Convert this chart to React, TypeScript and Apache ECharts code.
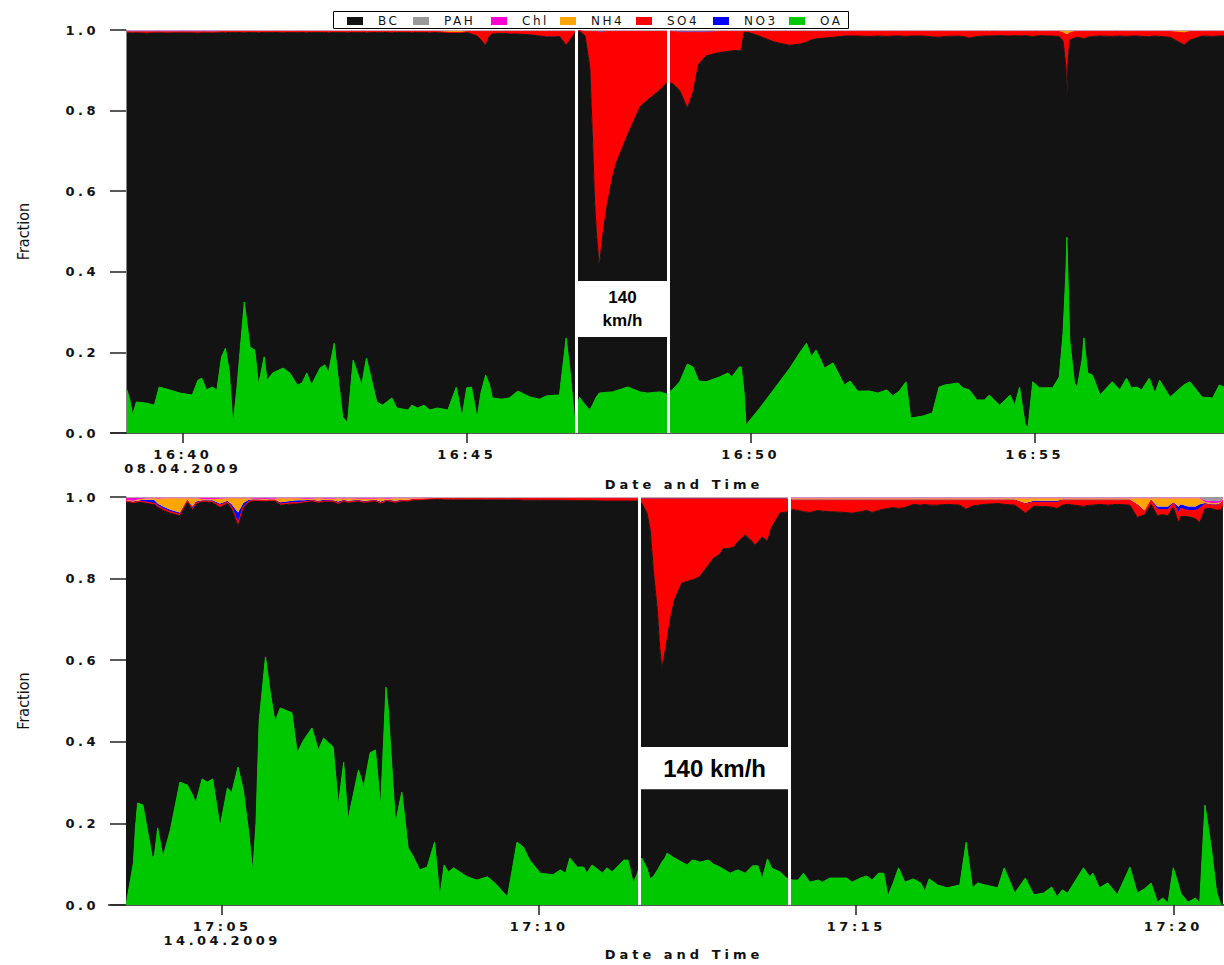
import React, { useEffect, useRef } from "react";
import * as echarts from "echarts";

// ---------------- Panel 1: 08.04.2009, seconds after 16:40:00 ----------------
const topT = [
  -59, -56, -53, -49, -38, -30, -25, -17, -3, 10,
  16, 20, 25, 31, 36, 41, 45, 49, 53, 57,
  65, 71, 76, 80, 86, 89, 95, 106, 113, 121,
  126, 131, 136, 145, 150, 154, 160, 164, 169, 174,
  180, 189, 194, 205, 211, 221, 226, 238, 242, 248,
  255, 261, 269, 280, 289, 295, 300, 305, 311, 315,
  320, 324, 327, 337, 345, 354, 367, 377, 384, 394,
  398, 401, 405, 409, 414, 419, 425, 430, 433, 435,
  437, 440, 444, 448, 454, 458, 470, 483, 491, 504,
  511, 517, 525, 533, 539, 545, 553, 567, 576, 580,
  588, 590, 593, 595, 609, 625, 641, 652, 659, 664,
  669, 678, 687, 699, 705, 713, 726, 734, 744, 750,
  757, 764, 769, 782, 792, 799, 805, 819, 824, 831,
  839, 847, 852, 863, 874, 879, 884, 890, 893, 898,
  905, 919, 926, 930, 933, 934, 935, 937, 942, 945,
  950, 952, 956, 961, 969, 982, 990, 997, 1002, 1008,
  1013, 1021, 1027, 1032, 1043, 1058, 1064, 1077, 1088, 1095,
  1100,
];
const topOA = [
  0.107, 0.082, 0.045, 0.077, 0.074, 0.069, 0.114, 0.109, 0.099, 0.094,
  0.131, 0.136, 0.107, 0.114, 0.107, 0.189, 0.21, 0.156, 0.02, 0.107,
  0.325, 0.213, 0.206, 0.119, 0.189, 0.131, 0.149, 0.161, 0.149, 0.119,
  0.124, 0.149, 0.119, 0.161, 0.169, 0.151, 0.223, 0.139, 0.04, 0.025,
  0.181, 0.119, 0.186, 0.077, 0.069, 0.087, 0.062, 0.057, 0.069, 0.062,
  0.069, 0.057, 0.062, 0.057, 0.114, 0.04, 0.112, 0.114, 0.037, 0.1,
  0.144, 0.12, 0.087, 0.084, 0.087, 0.104, 0.089, 0.084, 0.092, 0.094,
  0.094, 0.156, 0.236, 0.156, 0.032, 0.089, 0.07, 0.057, 0.07, 0.08,
  0.09, 0.099, 0.1, 0.101, 0.102, 0.105, 0.114, 0.102, 0.099, 0.102,
  0.097, 0.107, 0.127, 0.171, 0.164, 0.129, 0.127, 0.139, 0.149, 0.139,
  0.164, 0.164, 0.1, 0.02, 0.06, 0.11, 0.16, 0.2, 0.223, 0.189,
  0.206, 0.161, 0.174, 0.119, 0.129, 0.104, 0.104, 0.099, 0.107, 0.092,
  0.104, 0.127, 0.037, 0.042, 0.05, 0.114, 0.119, 0.124, 0.112, 0.107,
  0.082, 0.082, 0.094, 0.069, 0.094, 0.069, 0.114, 0.02, 0.015, 0.127,
  0.112, 0.112, 0.139, 0.248, 0.4, 0.486, 0.4, 0.231, 0.124, 0.114,
  0.181, 0.236, 0.149, 0.144, 0.094, 0.127, 0.107, 0.136, 0.112, 0.114,
  0.107, 0.136, 0.099, 0.131, 0.089, 0.12, 0.127, 0.089, 0.087, 0.119,
  0.114,
];
const topSO4 = [
  0.001, 0.001, 0.002, 0.001, 0.003, 0.001, 0.001, 0.002, 0.001, 0.001,
  0.003, 0.001, 0.001, 0.002, 0.001, 0.002, 0.003, 0.002, 0.002, 0.002,
  0.003, 0.002, 0.002, 0.003, 0.002, 0.002, 0.002, 0.003, 0.002, 0.002,
  0.002, 0.003, 0.002, 0.002, 0.002, 0.003, 0.002, 0.002, 0.002, 0.003,
  0.002, 0.002, 0.003, 0.002, 0.002, 0.003, 0.002, 0.002, 0.003, 0.002,
  0.002, 0.003, 0.002, 0, 0.001, 0, 0.002, 0.006, 0.011, 0.021,
  0.034, 0.011, 0.006, 0.004, 0.006, 0.006, 0.008, 0.011, 0.013, 0.013,
  0.012, 0.021, 0.034, 0.021, 0.004, 0, 0.011, 0.088, 0.276, 0.418,
  0.5, 0.582, 0.498, 0.435, 0.361, 0.326, 0.256, 0.187, 0.17, 0.145,
  0.128, 0.128, 0.144, 0.188, 0.15, 0.079, 0.058, 0.052, 0.049, 0.048,
  0.046, 0.046, 0, 0, 0.011, 0.026, 0.034, 0.031, 0.026, 0.021,
  0.018, 0.016, 0.014, 0.011, 0.011, 0.011, 0.012, 0.011, 0.012, 0.011,
  0.011, 0.012, 0.011, 0.011, 0.013, 0.014, 0.012, 0.011, 0.012, 0.016,
  0.012, 0.011, 0.011, 0.01, 0.011, 0.01, 0.011, 0.01, 0.011, 0.012,
  0.01, 0.011, 0.012, 0.02, 0.081, 0.16, 0.081, 0.018, 0.016, 0.014,
  0.016, 0.018, 0.014, 0.012, 0.011, 0.012, 0.011, 0.012, 0.011, 0.011,
  0.012, 0.013, 0.011, 0.012, 0.014, 0.03, 0.021, 0.011, 0.012, 0.011,
  0.011,
];
const topNO3 = [
  0.001, 0.001, 0.001, 0.001, 0.001, 0.001, 0.001, 0.001, 0.001, 0.001,
  0.001, 0.001, 0.001, 0.001, 0.001, 0.001, 0.001, 0.001, 0.001, 0.001,
  0.001, 0.001, 0.001, 0.001, 0.001, 0.001, 0.001, 0.001, 0.001, 0.001,
  0.001, 0.001, 0.001, 0.001, 0.001, 0.001, 0.001, 0.001, 0.001, 0.001,
  0.001, 0.001, 0.001, 0.001, 0.001, 0.001, 0.001, 0.001, 0.001, 0.001,
  0.001, 0.001, 0.001, 0.001, 0.001, 0.001, 0.001, 0.001, 0.001, 0.001,
  0.001, 0.001, 0.001, 0.001, 0.001, 0.001, 0.001, 0.001, 0.001, 0.001,
  0.001, 0.001, 0.001, 0.001, 0.001, 0.001, 0.001, 0.001, 0.001, 0.001,
  0.001, 0.003, 0.003, 0.001, 0.001, 0.001, 0.001, 0.001, 0.001, 0.001,
  0.001, 0.001, 0.003, 0.003, 0.003, 0.003, 0.003, 0.001, 0.001, 0.001,
  0.001, 0.001, 0.001, 0.001, 0.001, 0.001, 0.001, 0.001, 0.001, 0.001,
  0.001, 0.001, 0.001, 0.001, 0.001, 0.001, 0.001, 0.001, 0.001, 0.001,
  0.001, 0.001, 0.001, 0.001, 0.001, 0.001, 0.001, 0.001, 0.001, 0.001,
  0.001, 0.001, 0.001, 0.001, 0.001, 0.001, 0.001, 0.001, 0.001, 0.001,
  0.001, 0.001, 0.001, 0.001, 0.001, 0.001, 0.001, 0.001, 0.001, 0.001,
  0.001, 0.001, 0.001, 0.001, 0.001, 0.001, 0.001, 0.001, 0.001, 0.001,
  0.001, 0.001, 0.001, 0.001, 0.001, 0.001, 0.001, 0.001, 0.001, 0.001,
  0.001,
];
const topNH4 = [
  0.001, 0.001, 0.001, 0.001, 0.001, 0.001, 0.001, 0.001, 0.001, 0.001,
  0.001, 0.001, 0.001, 0.001, 0.001, 0.001, 0.001, 0.001, 0.001, 0.001,
  0.001, 0.001, 0.001, 0.001, 0.001, 0.001, 0.001, 0.001, 0.001, 0.001,
  0.001, 0.001, 0.001, 0.001, 0.001, 0.001, 0.001, 0.001, 0.001, 0.001,
  0.001, 0.001, 0.001, 0.001, 0.001, 0.001, 0.001, 0.001, 0.001, 0.001,
  0.001, 0.001, 0.001, 0.003, 0.003, 0.003, 0.001, 0.001, 0.001, 0.001,
  0.001, 0.001, 0.001, 0.001, 0.001, 0.001, 0.001, 0.001, 0.001, 0.001,
  0.001, 0.001, 0.001, 0.001, 0.001, 0, 0.001, 0.001, 0.001, 0.001,
  0.001, 0.001, 0.001, 0.001, 0.001, 0.001, 0.001, 0.001, 0.001, 0.001,
  0.001, 0.001, 0.001, 0.001, 0.001, 0.001, 0.001, 0.001, 0.001, 0.001,
  0.001, 0.001, 0.001, 0.001, 0.001, 0.001, 0.001, 0.001, 0.001, 0.001,
  0.001, 0.001, 0.001, 0.001, 0.001, 0.001, 0.001, 0.001, 0.001, 0.001,
  0.001, 0.001, 0.001, 0.001, 0.001, 0.001, 0.001, 0.001, 0.001, 0.001,
  0.001, 0.001, 0.001, 0.001, 0.001, 0.001, 0.001, 0.001, 0.001, 0.001,
  0.001, 0.001, 0.001, 0.004, 0.008, 0.008, 0.008, 0.004, 0.001, 0.001,
  0.001, 0.001, 0.001, 0.001, 0.001, 0.001, 0.001, 0.001, 0.001, 0.001,
  0.001, 0.001, 0.001, 0.001, 0.001, 0.004, 0.001, 0.001, 0.001, 0.001,
  0.001,
];
const topChl = [
  0.002, 0.002, 0.002, 0.002, 0.002, 0.002, 0.002, 0.002, 0.002, 0.002,
  0.002, 0.002, 0.002, 0.002, 0.002, 0.001, 0.001, 0.001, 0.001, 0.001,
  0.001, 0.001, 0.001, 0.001, 0.001, 0.001, 0.001, 0.001, 0.001, 0.001,
  0.001, 0.001, 0.001, 0.001, 0.001, 0.001, 0.001, 0.001, 0.001, 0.001,
  0.001, 0.001, 0.001, 0.001, 0.001, 0.001, 0.001, 0.001, 0.001, 0.001,
  0.001, 0.001, 0.001, 0.001, 0.001, 0.001, 0.001, 0.001, 0.001, 0.001,
  0.001, 0.001, 0.001, 0.001, 0.001, 0.001, 0.001, 0.001, 0.001, 0.001,
  0.001, 0.001, 0.001, 0.001, 0.001, 0.001, 0.001, 0.001, 0.001, 0.001,
  0.001, 0.001, 0.001, 0.001, 0.001, 0.001, 0.001, 0.001, 0.001, 0.001,
  0.001, 0.001, 0.001, 0.001, 0.001, 0.001, 0.001, 0.001, 0.001, 0.001,
  0.001, 0.001, 0.001, 0.001, 0.001, 0.001, 0.001, 0.001, 0.001, 0.001,
  0.001, 0.001, 0.001, 0.001, 0.001, 0.001, 0.001, 0.001, 0.001, 0.001,
  0.001, 0.001, 0.001, 0.001, 0.001, 0.001, 0.001, 0.001, 0.001, 0.001,
  0.001, 0.001, 0.001, 0.001, 0.001, 0.001, 0.001, 0.001, 0.001, 0.001,
  0.001, 0.001, 0.001, 0.001, 0.001, 0.001, 0.001, 0.001, 0.001, 0.001,
  0.001, 0.001, 0.001, 0.001, 0.001, 0.001, 0.001, 0.001, 0.001, 0.001,
  0.001, 0.001, 0.001, 0.001, 0.001, 0.001, 0.001, 0.001, 0.001, 0.001,
  0.001,
];
const topPAH = [
  0.001, 0.001, 0.001, 0.001, 0.001, 0.001, 0.001, 0.001, 0.001, 0.001,
  0.001, 0.001, 0.001, 0.001, 0.001, 0.001, 0.001, 0.001, 0.001, 0.001,
  0.001, 0.001, 0.001, 0.001, 0.001, 0.001, 0.001, 0.001, 0.001, 0.001,
  0.001, 0.001, 0.001, 0.001, 0.001, 0.001, 0.001, 0.001, 0.001, 0.001,
  0.001, 0.001, 0.001, 0.001, 0.001, 0.001, 0.001, 0.001, 0.001, 0.001,
  0.001, 0.001, 0.001, 0.001, 0.001, 0.001, 0.001, 0.001, 0.001, 0.001,
  0.001, 0.001, 0.001, 0.001, 0.001, 0.001, 0.001, 0.001, 0.001, 0.001,
  0.001, 0.001, 0.001, 0.001, 0.001, 0, 0.001, 0.001, 0.001, 0.001,
  0.001, 0.001, 0.001, 0.001, 0.001, 0.001, 0.001, 0.001, 0.001, 0.001,
  0.001, 0.001, 0.001, 0.001, 0.001, 0.001, 0.001, 0.001, 0.001, 0.001,
  0.001, 0.001, 0.001, 0.001, 0.001, 0.001, 0.001, 0.001, 0.001, 0.001,
  0.001, 0.001, 0.001, 0.001, 0.001, 0.001, 0.001, 0.001, 0.001, 0.001,
  0.001, 0.001, 0.001, 0.001, 0.001, 0.001, 0.001, 0.001, 0.001, 0.001,
  0.001, 0.001, 0.001, 0.001, 0.001, 0.001, 0.001, 0.001, 0.001, 0.001,
  0.001, 0.001, 0.001, 0.001, 0.001, 0.001, 0.001, 0.001, 0.001, 0.001,
  0.001, 0.001, 0.001, 0.001, 0.001, 0.001, 0.001, 0.001, 0.001, 0.001,
  0.001, 0.001, 0.001, 0.001, 0.001, 0.001, 0.001, 0.001, 0.001, 0.001,
  0.001,
];

// ---------------- Panel 2: 14.04.2009, seconds after 17:05:00 ----------------
const botT = [
  -91, -89, -84, -82, -80, -75, -66, -64, -61, -56,
  -49, -40, -33, -28, -25, -19, -14, -9, -2, 5,
  9, 15, 20, 25, 29, 32, 35, 41, 45, 50,
  55, 66, 71, 77, 85, 91, 96, 105, 110, 115,
  119, 129, 134, 140, 145, 150, 155, 157, 164, 170,
  176, 181, 187, 194, 201, 206, 210, 214, 219, 232,
  241, 251, 258, 270, 279, 285, 291, 301, 313, 320,
  325, 329, 336, 342, 345, 350, 360, 364, 369, 380,
  384, 389, 393, 397, 402, 405, 408, 412, 414, 416,
  419, 421, 424, 428, 435, 440, 445, 449, 452, 455,
  460, 465, 471, 474, 481, 484, 488, 495, 502, 504,
  507, 511, 516, 520, 528, 534, 540, 545, 550, 556,
  564, 568, 575, 591, 596, 604, 610, 615, 621, 626,
  630, 635, 640, 646, 654, 661, 665, 669, 677, 686,
  698, 704, 710, 715, 722, 734, 740, 750, 760, 768,
  777, 785, 790, 795, 800, 815, 821, 824, 830, 838,
  847, 859, 866, 873, 879, 885, 890, 895, 900, 905,
  907, 914, 921, 925, 930, 936, 941, 945, 947,
];
const botOA = [
  0, 0.029, 0.103, 0.191, 0.25, 0.245, 0.115, 0.123, 0.189, 0.118,
  0.184, 0.301, 0.294, 0.27, 0.25, 0.309, 0.301, 0.309, 0.191, 0.287,
  0.275, 0.338, 0.282, 0.18, 0.081, 0.2, 0.45, 0.608, 0.53, 0.449,
  0.483, 0.471, 0.373, 0.404, 0.434, 0.38, 0.409, 0.387, 0.245, 0.35,
  0.208, 0.331, 0.289, 0.373, 0.38, 0.24, 0.534, 0.485, 0.201, 0.277,
  0.14, 0.118, 0.086, 0.093, 0.154, 0.02, 0.098, 0.081, 0.091, 0.069,
  0.061, 0.069, 0.054, 0.02, 0.154, 0.142, 0.11, 0.078, 0.074, 0.086,
  0.078, 0.115, 0.093, 0.093, 0.078, 0.098, 0.078, 0.091, 0.081, 0.11,
  0.11, 0.054, 0.078, 0.115, 0.09, 0.064, 0.07, 0.086, 0.095, 0.105,
  0.115, 0.127, 0.122, 0.115, 0.105, 0.098, 0.11, 0.108, 0.105, 0.107,
  0.11, 0.1, 0.093, 0.088, 0.078, 0.082, 0.086, 0.078, 0.096, 0.096,
  0.096, 0.064, 0.113, 0.09, 0.081, 0.066, 0.061, 0.061, 0.078, 0.056,
  0.061, 0.056, 0.066, 0.066, 0.056, 0.066, 0.071, 0.061, 0.078, 0.078,
  0.022, 0.054, 0.091, 0.056, 0.064, 0.054, 0.034, 0.064, 0.049, 0.042,
  0.049, 0.154, 0.042, 0.054, 0.049, 0.042, 0.091, 0.029, 0.066, 0.025,
  0.029, 0.044, 0.02, 0.037, 0.029, 0.091, 0.069, 0.078, 0.042, 0.054,
  0.025, 0.093, 0.029, 0.04, 0.054, 0.007, 0.017, 0.005, 0.091, 0.05,
  0.029, 0.007, 0.017, 0.005, 0.245, 0.14, 0.032, 0, 0,
];
const botSO4 = [
  0.002, 0.002, 0.002, 0.003, 0.002, 0.003, 0.003, 0.003, 0.004, 0.004,
  0.004, 0.004, 0.003, 0.003, 0.003, 0.002, 0.002, 0.003, 0.006, 0.004,
  0.004, 0.008, 0.004, 0.003, 0.002, 0.002, 0.002, 0.002, 0.002, 0.002,
  0.003, 0.003, 0.003, 0.002, 0.002, 0.003, 0.002, 0.002, 0.003, 0.002,
  0.003, 0.002, 0.002, 0.002, 0.002, 0.003, 0.002, 0.002, 0.003, 0.002,
  0.003, 0.002, 0.002, 0.002, 0.002, 0.002, 0.003, 0.003, 0.003, 0.003,
  0.003, 0.003, 0.003, 0.003, 0.003, 0.004, 0.004, 0.004, 0.004, 0.004,
  0.004, 0.005, 0.005, 0.005, 0.005, 0.005, 0.006, 0.006, 0.006, 0.006,
  0.006, 0.006, 0.006, 0.01, 0.034, 0.075, 0.174, 0.279, 0.363, 0.414,
  0.377, 0.345, 0.296, 0.247, 0.206, 0.202, 0.198, 0.194, 0.19, 0.179,
  0.162, 0.145, 0.135, 0.122, 0.12, 0.118, 0.105, 0.088, 0.105, 0.113,
  0.105, 0.093, 0.103, 0.069, 0.034, 0.032, 0.023, 0.025, 0.028, 0.03,
  0.025, 0.027, 0.028, 0.03, 0.032, 0.028, 0.025, 0.03, 0.025, 0.022,
  0.02, 0.018, 0.02, 0.018, 0.01, 0.012, 0.01, 0.012, 0.012, 0.01,
  0.012, 0.022, 0.014, 0.012, 0.01, 0.008, 0.01, 0.012, 0.022, 0.01,
  0.01, 0.012, 0.015, 0.012, 0.01, 0.015, 0.012, 0.012, 0.01, 0.012,
  0.01, 0.012, 0.03, 0.008, 0.01, 0.015, 0.012, 0.015, 0.01, 0.025,
  0.02, 0.015, 0.02, 0.035, 0.012, 0.008, 0.012, 0.015, 0.015,
];
const botNO3 = [
  0.001, 0.001, 0.002, 0.002, 0.002, 0.004, 0.008, 0.007, 0.005, 0.006,
  0.005, 0.004, 0.002, 0.006, 0.004, 0.002, 0.002, 0.003, 0.004, 0.003,
  0.006, 0.025, 0.008, 0.004, 0.002, 0.002, 0.002, 0.002, 0.002, 0.002,
  0.004, 0.005, 0.006, 0.004, 0.002, 0.003, 0.003, 0.002, 0.004, 0.002,
  0.003, 0.002, 0.003, 0.002, 0.002, 0.003, 0.002, 0.002, 0.003, 0.002,
  0.002, 0.001, 0.001, 0.001, 0.001, 0.001, 0.001, 0.001, 0.001, 0.001,
  0.001, 0.001, 0.001, 0.001, 0.001, 0.001, 0.001, 0.001, 0.001, 0.001,
  0.001, 0.001, 0.001, 0.001, 0.001, 0.001, 0.001, 0.001, 0.001, 0.001,
  0.001, 0.001, 0.001, 0.002, 0.002, 0.002, 0.002, 0.002, 0.002, 0.002,
  0.002, 0.002, 0.002, 0.002, 0.002, 0.002, 0.002, 0.002, 0.002, 0.002,
  0.002, 0.002, 0.002, 0.002, 0.002, 0.002, 0.002, 0.002, 0.002, 0.002,
  0.002, 0.002, 0.002, 0.002, 0.002, 0.002, 0.002, 0.002, 0.002, 0.002,
  0.002, 0.002, 0.002, 0.002, 0.002, 0.002, 0.002, 0.002, 0.002, 0.002,
  0.002, 0.002, 0.002, 0.002, 0.002, 0.002, 0.002, 0.002, 0.002, 0.002,
  0.002, 0.002, 0.002, 0.002, 0.002, 0.002, 0.002, 0.002, 0.002, 0.004,
  0.004, 0.004, 0.004, 0.002, 0.002, 0.002, 0.002, 0.002, 0.002, 0.002,
  0.002, 0.002, 0.002, 0.002, 0.002, 0.008, 0.008, 0.008, 0.002, 0.015,
  0.01, 0.01, 0.01, 0.01, 0.002, 0.002, 0.002, 0.002, 0.002,
];
const botNH4 = [
  0.001, 0.002, 0.002, 0.002, 0.003, 0.003, 0.004, 0.005, 0.012, 0.02,
  0.028, 0.035, 0.004, 0.02, 0.008, 0.003, 0.002, 0.003, 0.012, 0.006,
  0.015, 0.035, 0.012, 0.004, 0.002, 0.002, 0.002, 0.002, 0.002, 0.002,
  0.01, 0.006, 0.005, 0.004, 0.003, 0.006, 0.003, 0.004, 0.008, 0.003,
  0.006, 0.003, 0.006, 0.004, 0.003, 0.008, 0.003, 0.003, 0.006, 0.004,
  0.004, 0.002, 0.002, 0.001, 0.001, 0.001, 0.001, 0.001, 0.001, 0.001,
  0.001, 0.001, 0.001, 0.001, 0.001, 0.001, 0.001, 0.001, 0.001, 0.001,
  0.001, 0.001, 0.001, 0.001, 0.001, 0.001, 0.001, 0.001, 0.001, 0.001,
  0.001, 0.001, 0.001, 0.001, 0.001, 0.001, 0.001, 0.001, 0.001, 0.001,
  0.001, 0.001, 0.001, 0.001, 0.001, 0.001, 0.001, 0.001, 0.001, 0.001,
  0.001, 0.001, 0.001, 0.001, 0.001, 0.001, 0.001, 0.001, 0.001, 0.001,
  0.001, 0.001, 0.001, 0.001, 0.001, 0.001, 0.003, 0.003, 0.003, 0.003,
  0.003, 0.003, 0.003, 0.003, 0.003, 0.003, 0.003, 0.003, 0.003, 0.003,
  0.003, 0.003, 0.003, 0.003, 0.003, 0.003, 0.003, 0.003, 0.003, 0.003,
  0.003, 0.003, 0.003, 0.003, 0.003, 0.003, 0.003, 0.003, 0.012, 0.006,
  0.006, 0.006, 0.006, 0.003, 0.003, 0.003, 0.003, 0.003, 0.003, 0.003,
  0.003, 0.003, 0.015, 0.03, 0.003, 0.02, 0.02, 0.02, 0.01, 0.02,
  0.015, 0.02, 0.02, 0.015, 0.003, 0.003, 0.003, 0.003, 0.003,
];
const botChl = [
  0.006, 0.006, 0.007, 0.006, 0.004, 0.003, 0.002, 0.002, 0.003, 0.002,
  0.002, 0.002, 0.002, 0.002, 0.002, 0.004, 0.005, 0.004, 0.003, 0.002,
  0.002, 0.002, 0.002, 0.002, 0.003, 0.003, 0.003, 0.004, 0.003, 0.003,
  0.002, 0.002, 0.002, 0.003, 0.003, 0.002, 0.003, 0.003, 0.002, 0.003,
  0.002, 0.003, 0.003, 0.003, 0.003, 0.002, 0.003, 0.003, 0.002, 0.002,
  0.002, 0.002, 0.002, 0.002, 0.001, 0.001, 0.001, 0.001, 0.001, 0.001,
  0.001, 0.001, 0.001, 0.001, 0.001, 0.001, 0.001, 0.001, 0.001, 0.001,
  0.001, 0.001, 0.001, 0.001, 0.001, 0.001, 0.001, 0.001, 0.001, 0.001,
  0.001, 0.001, 0.001, 0.001, 0.001, 0.001, 0.001, 0.001, 0.001, 0.001,
  0.001, 0.001, 0.001, 0.001, 0.001, 0.001, 0.001, 0.001, 0.001, 0.001,
  0.001, 0.001, 0.001, 0.001, 0.001, 0.001, 0.001, 0.001, 0.001, 0.001,
  0.001, 0.001, 0.001, 0.001, 0.001, 0.001, 0.002, 0.002, 0.002, 0.002,
  0.002, 0.002, 0.002, 0.002, 0.002, 0.002, 0.002, 0.002, 0.002, 0.002,
  0.002, 0.002, 0.002, 0.002, 0.002, 0.002, 0.002, 0.002, 0.002, 0.002,
  0.002, 0.002, 0.002, 0.002, 0.002, 0.002, 0.002, 0.002, 0.002, 0.002,
  0.002, 0.002, 0.002, 0.002, 0.002, 0.002, 0.002, 0.002, 0.002, 0.002,
  0.002, 0.002, 0.002, 0.002, 0.002, 0.002, 0.002, 0.002, 0.002, 0.002,
  0.002, 0.002, 0.002, 0.002, 0.004, 0.005, 0.005, 0.004, 0.002,
];
const botPAH = [
  0.002, 0.002, 0.002, 0.002, 0.002, 0.001, 0.001, 0.001, 0.001, 0.001,
  0.001, 0.001, 0.001, 0.001, 0.001, 0.001, 0.001, 0.001, 0.001, 0.001,
  0.001, 0.001, 0.001, 0.001, 0.001, 0.001, 0.001, 0.001, 0.001, 0.001,
  0.001, 0.001, 0.001, 0.001, 0.001, 0.001, 0.001, 0.001, 0.001, 0.001,
  0.001, 0.001, 0.001, 0.001, 0.001, 0.001, 0.001, 0.001, 0.001, 0.001,
  0.001, 0.001, 0.001, 0.001, 0.001, 0.001, 0.001, 0.001, 0.001, 0.001,
  0.001, 0.001, 0.001, 0.001, 0.001, 0.001, 0.001, 0.001, 0.001, 0.001,
  0.001, 0.001, 0.001, 0.001, 0.001, 0.001, 0.001, 0.001, 0.001, 0.001,
  0.001, 0.001, 0.001, 0.001, 0.001, 0.001, 0.001, 0.001, 0.001, 0.001,
  0.001, 0.001, 0.001, 0.001, 0.001, 0.001, 0.001, 0.001, 0.001, 0.001,
  0.001, 0.001, 0.001, 0.001, 0.001, 0.001, 0.001, 0.001, 0.001, 0.001,
  0.001, 0.001, 0.001, 0.001, 0.001, 0.001, 0.001, 0.001, 0.001, 0.001,
  0.001, 0.001, 0.001, 0.001, 0.001, 0.001, 0.001, 0.001, 0.001, 0.001,
  0.001, 0.001, 0.001, 0.001, 0.001, 0.001, 0.001, 0.001, 0.001, 0.001,
  0.001, 0.001, 0.001, 0.001, 0.001, 0.001, 0.001, 0.001, 0.001, 0.001,
  0.001, 0.001, 0.001, 0.001, 0.001, 0.001, 0.001, 0.001, 0.001, 0.001,
  0.001, 0.001, 0.001, 0.001, 0.001, 0.001, 0.001, 0.001, 0.001, 0.001,
  0.001, 0.001, 0.001, 0.001, 0.008, 0.01, 0.01, 0.008, 0.001,
];

// ---------------- axes / annotations ----------------
const TOP_BASE = Date.UTC(2009, 3, 8, 16, 40, 0);
const BOT_BASE = Date.UTC(2009, 3, 14, 17, 5, 0);
const TOP_DATE = "08.04.2009";
const BOT_DATE = "14.04.2009";
const topRange = [-60, 1100];
const botRange = [-91, 948];
const topBand = [416, 513];
const topBox = [0.238, 0.377];
const botBand = [395, 537];
const botBox = [0.284, 0.387];
const yTicks = [0, 0.2, 0.4, 0.6, 0.8, 1.0];
const speedLabel = "140 km/h";

const legendNames = ["BC", "PAH", "Chl", "NH4", "SO4", "NO3", "OA"];
const stackOrder = ["OA", "BC", "SO4", "NO3", "NH4", "Chl", "PAH"];
const COLORS: Record<string, string> = {
  BC: "#131313",
  PAH: "#9a9a9a",
  Chl: "#ff00d0",
  NH4: "#ffa500",
  SO4: "#ff0000",
  NO3: "#0000ff",
  OA: "#00c800",
};

// legend box layout (pixels)
const LEG_BOX = { x: 333.5, y: 11.5, w: 515, h: 17 };
const LEG_SWATCH_X = [347, 413, 491, 560, 636, 713, 789];
const LEG_TEXT_DX = 31;

const TICK_FONT = "'DejaVu Sans', 'Liberation Sans', sans-serif";

function remainderBC(oa: number[], parts: number[][]) {
  return oa.map((v, i) => {
    let s = v;
    parts.forEach((p) => (s += p[i]));
    return Math.round((1 - s) * 1000) / 1000;
  });
}

function pad(n: number) {
  return n < 10 ? "0" + n : "" + n;
}

function buildPanel(
  idx: number,
  base: number,
  t: number[],
  comps: Record<string, number[]>,
  band: number[],
  box: number[],
  labelText: string,
  labelSize: number,
  labelLH: number
) {
  const series: any[] = stackOrder.map((name) => {
    const vals = comps[name];
    const major = name === "OA" || name === "BC" || name === "SO4";
    return {
      name,
      type: "line",
      xAxisIndex: idx,
      yAxisIndex: idx,
      stack: "panel" + idx,
      symbol: "none",
      showSymbol: false,
      silent: true,
      lineStyle: { width: major ? 1 : 0, color: COLORS[name] },
      itemStyle: { color: COLORS[name] },
      areaStyle: { color: COLORS[name], opacity: 1 },
      data: t.map((s, i) => [base + s * 1000, vals[i]]),
    };
  });
  series.push({
    type: "line",
    xAxisIndex: idx,
    yAxisIndex: idx,
    data: [],
    silent: true,
    z: 10,
    markArea: {
      silent: true,
      z: 10,
      itemStyle: { color: "#ffffff" },
      label: {
        show: true,
        position: "inside",
        formatter: labelText,
        color: "#000",
        fontFamily: "'Liberation Sans', Arial, sans-serif",
        fontWeight: "bold",
        fontSize: labelSize,
        lineHeight: labelLH,
      },
      data: [
        [
          { xAxis: base + band[0] * 1000, yAxis: box[0] },
          { xAxis: base + band[1] * 1000, yAxis: box[1] },
        ],
      ],
    },
    markLine: {
      silent: true,
      z: 11,
      symbol: ["none", "none"],
      label: { show: false },
      lineStyle: { color: "#ffffff", width: 3, type: "solid" },
      data: [{ xAxis: base + band[0] * 1000 }, { xAxis: base + band[1] * 1000 }],
    },
  });
  return series;
}

function xAxisFor(idx: number, base: number, range: number[], dateStr: string, nameGap: number) {
  return {
    type: "time",
    gridIndex: idx,
    min: base + range[0] * 1000,
    max: base + range[1] * 1000,
    splitNumber: 3,
    minInterval: 310000,
    maxInterval: 590000,
    splitLine: { show: false },
    axisLine: { show: true, lineStyle: { color: "#222", width: 1.5 } },
    axisTick: { show: true, length: 10, lineStyle: { color: "#222", width: 1.5 } },
    minorTick: { show: false },
    axisLabel: {
      color: "#111",
      fontFamily: TICK_FONT,
      fontWeight: "bold",
      fontSize: 13,
      lineHeight: 14,
      margin: 14,
      hideOverlap: false,
      formatter: (val: number) => {
        const d = new Date(val);
        let s = pad(d.getUTCHours()) + ":" + pad(d.getUTCMinutes());
        if (val === base) s += "\n" + dateStr;
        return s;
      },
    },
    name: "Date and Time",
    nameLocation: "middle",
    nameGap,
    nameTextStyle: {
      color: "#111",
      fontFamily: TICK_FONT,
      fontWeight: "bold",
      fontSize: 13,
      padding: [0, 0, 0, 18],
    },
  };
}

function yAxisFor(idx: number) {
  return {
    type: "value",
    gridIndex: idx,
    min: yTicks[0],
    max: yTicks[yTicks.length - 1],
    interval: 0.2,
    splitLine: { show: false },
    axisLine: { show: true, lineStyle: { color: "#8a8a8a", width: 1 } },
    axisTick: { show: true, length: 16, lineStyle: { color: "#222", width: 1.5 } },
    axisLabel: {
      color: "#111",
      fontFamily: TICK_FONT,
      fontWeight: "bold",
      fontSize: 13,
      margin: 27,
      formatter: (v: number) => v.toFixed(1),
    },
    name: "Fraction",
    nameLocation: "middle",
    nameGap: 95,
    nameTextStyle: {
      color: "#111",
      fontFamily: "'Liberation Sans Narrow', 'DejaVu Sans Condensed', 'Liberation Sans', sans-serif",
      fontSize: 16,
    },
  };
}

function legendGraphic() {
  const els: any[] = [
    {
      type: "rect",
      shape: { x: LEG_BOX.x, y: LEG_BOX.y, width: LEG_BOX.w, height: LEG_BOX.h },
      style: { fill: "#ffffff", stroke: "#000000", lineWidth: 1 },
      silent: true,
    },
  ];
  legendNames.forEach((n, i) => {
    els.push({
      type: "rect",
      shape: { x: LEG_SWATCH_X[i], y: 17, width: 16, height: 8 },
      style: { fill: COLORS[n] },
      silent: true,
    });
    els.push({
      type: "text",
      x: LEG_SWATCH_X[i] + LEG_TEXT_DX,
      y: 20.5,
      style: {
        text: n,
        fill: "#111",
        font: "12px 'DejaVu Sans', 'Liberation Sans', sans-serif",
        verticalAlign: "middle",
        align: "left",
      },
      silent: true,
    });
  });
  return els;
}

function applySpacing(root: HTMLElement | null) {
  if (!root) return;
  root.querySelectorAll("text").forEach((t) => {
    const s = (t.textContent || "").trim();
    if (s.indexOf("140") >= 0 || s.indexOf("km") >= 0) return;
    if (/^[0-9][0-9.:]*$/.test(s)) t.setAttribute("letter-spacing", "3.5");
    else if (s === "Date and Time") t.setAttribute("letter-spacing", "4");
    else if (legendNames.indexOf(s) >= 0) t.setAttribute("letter-spacing", "2.5");
  });
}

export default function App() {
  const ref = useRef<HTMLDivElement>(null);

  useEffect(() => {
    if (!ref.current) return;
    const lens = [topOA, topSO4, topNO3, topNH4, topChl, topPAH].map((a) => a.length);
    const lensB = [botOA, botSO4, botNO3, botNH4, botChl, botPAH].map((a) => a.length);
    if (lens.some((l) => l !== topT.length) || lensB.some((l) => l !== botT.length)) {
      throw new Error("length mismatch top " + topT.length + " " + lens.join(",") + " bot " + botT.length + " " + lensB.join(","));
    }
    const chart = echarts.init(ref.current, null, { renderer: "svg" });

    const topBC = remainderBC(topOA, [topSO4, topNO3, topNH4, topChl, topPAH]);
    const botBC = remainderBC(botOA, [botSO4, botNO3, botNH4, botChl, botPAH]);

    const topSeries = buildPanel(
      0,
      TOP_BASE,
      topT,
      { OA: topOA, BC: topBC, SO4: topSO4, NO3: topNO3, NH4: topNH4, Chl: topChl, PAH: topPAH },
      topBand,
      topBox,
      speedLabel.replace(" ", "\n"),
      17,
      23
    );
    const botSeries = buildPanel(
      1,
      BOT_BASE,
      botT,
      { OA: botOA, BC: botBC, SO4: botSO4, NO3: botNO3, NH4: botNH4, Chl: botChl, PAH: botPAH },
      botBand,
      botBox,
      speedLabel,
      24,
      28
    );

    chart.setOption({
      animation: false,
      backgroundColor: "#ffffff",
      grid: [
        { left: 126, top: 30, right: 0, height: 403 },
        { left: 126, top: 497, right: 0, height: 408 },
      ],
      xAxis: [
        xAxisFor(0, TOP_BASE, topRange, TOP_DATE, 45),
        xAxisFor(1, BOT_BASE, botRange, BOT_DATE, 43),
      ],
      yAxis: [yAxisFor(0), yAxisFor(1)],
      graphic: [
        { type: "line", shape: { x1: 110, y1: 433, x2: 126, y2: 433 }, style: { stroke: "#222", lineWidth: 1.5 } },
        { type: "line", shape: { x1: 108, y1: 905, x2: 126, y2: 905 }, style: { stroke: "#222", lineWidth: 1.5 } },
        ...legendGraphic(),
      ],
      series: [...topSeries, ...botSeries],
    });
    applySpacing(ref.current);
    const timer = setTimeout(() => applySpacing(ref.current), 50);
    return () => {
      clearTimeout(timer);
      chart.dispose();
    };
  }, []);

  return (
    <div
      ref={ref}
      style={{ position: "absolute", left: 0, top: 0, width: 1224, height: 965, background: "#fff" }}
    />
  );
}
